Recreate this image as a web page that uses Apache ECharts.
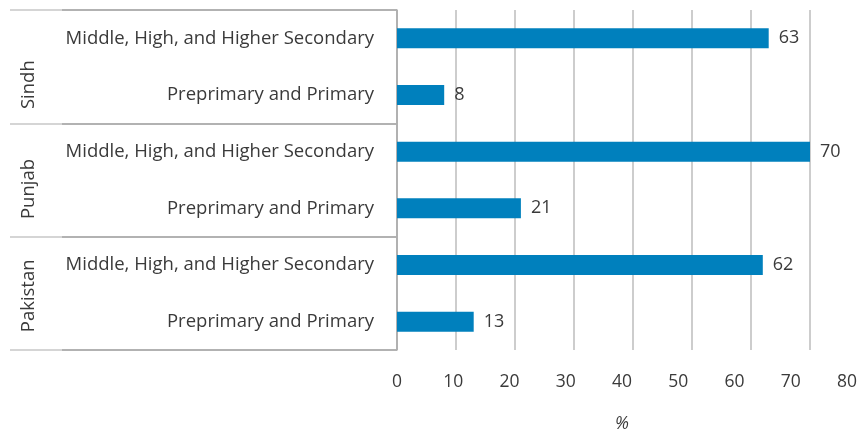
<!DOCTYPE html>
<html>
<head>
<meta charset="utf-8">
<script src="https://cdn.jsdelivr.net/npm/echarts@6/dist/echarts.min.js"></script>
<style>html,body{margin:0;padding:0;background:#fff}#c{width:857px;height:436px}</style>
</head>
<body>
<div id="c"></div>
<script>
// Bottom-to-top order (ECharts category y axis starts at the bottom)
const categories = [
  'Preprimary and Primary', 'Middle, High, and Higher Secondary',
  'Preprimary and Primary', 'Middle, High, and Higher Secondary',
  'Preprimary and Primary', 'Middle, High, and Higher Secondary'
];
const groups = ['Pakistan', 'Punjab', 'Sindh'];
const values = [13, 62, 21, 70, 8, 63];
const xTicks = [0, 10, 20, 30, 40, 50, 60, 70, 80];
const xName = '%';

const FONT = 'Open Sans';
const TXT = '#3a3a3a';
const FS = 18.5;
const groupStyle = { Pakistan: 'p', Punjab: 'q', Sindh: 's' };
const chart = echarts.init(document.getElementById('c'));
chart.setOption({
  animation: false,
  textStyle: { fontFamily: FONT },
  grid: [
    { left: 397, width: 472, top: 10, bottom: 86, outerBoundsMode: 'none', containLabel: false },
    { left: 397, width: 450, top: 10, bottom: 86, outerBoundsMode: 'none', containLabel: false }
  ],
  xAxis: [
    {
      gridIndex: 0, type: 'value', min: xTicks[0], max: xTicks[xTicks.length - 1], interval: 10,
      axisLine: { show: false }, axisTick: { show: false }, axisLabel: { show: false },
      splitLine: { show: true, lineStyle: { color: '#bdbdbd', width: 1.5 } }
    },
    {
      gridIndex: 1, type: 'value', min: xTicks[0], max: xTicks[xTicks.length - 1], interval: 10,
      axisLine: { show: false }, axisTick: { show: false }, splitLine: { show: false },
      axisLabel: { show: true, margin: 23, fontSize: 17.5, color: TXT, fontFamily: FONT },
      name: xName, nameLocation: 'middle', nameGap: 65,
      nameTextStyle: { fontSize: 17.5, fontStyle: 'italic', color: TXT, fontFamily: FONT }
    }
  ],
  yAxis: [
    {
      gridIndex: 0, type: 'category', data: categories,
      axisLine: { show: true, lineStyle: { color: '#a8a8a8', width: 1.5 } },
      axisTick: { show: false },
      axisLabel: { interval: 0, margin: 23, fontSize: FS, color: TXT, fontFamily: FONT, align: 'right' }
    },
    {
      gridIndex: 0, type: 'category', data: groups, position: 'left',
      axisLine: { show: false },
      axisTick: { show: true, length: 387, alignWithLabel: false, lineStyle: { color: '#c8c8c8', width: 1.5 } },
      axisLabel: {
        interval: 0, hideOverlap: false,
        rotate: 90, margin: 359, fontSize: FS, color: TXT, fontFamily: FONT,
        formatter: v => '{' + groupStyle[v] + '|' + v + '}',
        rich: {
          s: { padding: [0, 36, 0, 0], fontSize: FS, color: TXT, fontFamily: FONT },
          q: { padding: [0, 18, 0, 0], fontSize: FS, color: TXT, fontFamily: FONT },
          p: { padding: [0, 5, 0, 0], fontSize: FS, color: TXT, fontFamily: FONT }
        }
      }
    },
    {
      gridIndex: 0, type: 'category', data: groups, position: 'left',
      axisLine: { show: false },
      axisTick: { show: true, length: 335, alignWithLabel: false, lineStyle: { color: '#a8a8a8', width: 1.5 } },
      axisLabel: { show: false }
    },
    { gridIndex: 1, type: 'category', data: categories, show: false }
  ],
  series: [{
    type: 'bar', xAxisIndex: 0, yAxisIndex: 0, data: values,
    barWidth: 20,
    itemStyle: { color: '#0080bd' },
    label: { show: true, position: 'right', distance: 10, fontSize: 18, color: TXT, fontFamily: FONT }
  }]
});
</script>
</body>
</html>
